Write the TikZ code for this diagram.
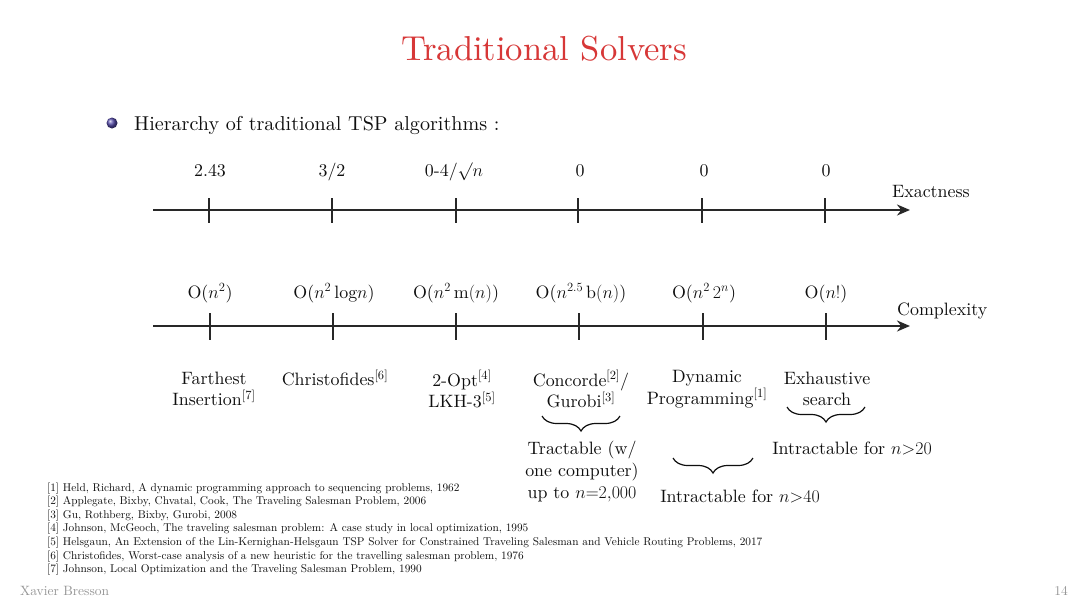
\RequirePackage{fix-cm}
\documentclass[tikz,border=0pt]{standalone}
\usepackage{fontspec}
\setmainfont{lmroman10-regular.otf}[BoldFont=lmroman10-bold.otf,ItalicFont=lmroman10-italic.otf]
\usetikzlibrary{arrows.meta,decorations.pathreplacing}
\definecolor{titlered}{RGB}{215,55,55}
\definecolor{axisgray}{RGB}{40,40,40}
\definecolor{ballblue}{RGB}{85,75,170}
\definecolor{footgray}{RGB}{150,150,150}
\definecolor{txt}{RGB}{15,15,15}
\tikzset{
  axisline/.style={draw=axisgray, line width=2.8pt, -{Stealth[length=13pt,width=11pt]}},
  tickmark/.style={draw=axisgray, line width=1.7pt},
  lbl/.style={font=\fontsize{17.9}{21}\selectfont, anchor=base, inner sep=0pt, text=txt},
  alg/.style={font=\fontsize{17.9}{21.5}\selectfont, align=center, inner sep=0pt, text=txt},
  bracedown/.style={decorate, decoration={brace, amplitude=15pt}, draw=txt, line width=1.2pt},
  reftext/.style={font=\fontsize{11.3}{13.6}\selectfont, anchor=base west, inner sep=0pt, text=txt},
  foot/.style={font=\fontsize{13.5}{15}\selectfont, inner sep=0pt, text=footgray}
}
\begin{document}
\begin{tikzpicture}[x=1pt,y=-1pt]
\useasboundingbox (0,0) rectangle (1080,608);
\fill[white] (0,0) rectangle (1080,608);
% title
\node[font=\fontsize{34.6}{40}\selectfont, text=titlered, anchor=base, inner sep=0pt] (title) at (544,60) {Traditional Solvers};
% bullet
\shade[ball color=ballblue] (112,123) circle (5.5);
\node[font=\fontsize{20.1}{24}\selectfont, anchor=base west, inner sep=0pt, text=txt] (bullet) at (134,130) {Hierarchy of traditional TSP algorithms :};
% exactness axis
\coordinate (e0) at (153,210);
\coordinate (e1) at (910,210);
\draw[axisline] (e0) -- (e1);
\foreach \x/\n in {209/ea,332/eb,456/ec,578/ed,702/ee,825/ef}{
  \coordinate (\n t) at (\x,198);
  \coordinate (\n b) at (\x,223);
  \draw[tickmark] (\n t) -- (\n b);
}
\node[lbl] (x1) at (210,176) {2.43};
\node[lbl] (x2) at (332,176) {3/2};
\node[lbl] (x3) at (454,176) {0-4/$\surd n$};
\node[lbl] (x4) at (580,176) {0};
\node[lbl] (x5) at (704,176) {0};
\node[lbl] (x6) at (826,176) {0};
\node[lbl, anchor=base west] (exact) at (892,197) {Exactness};
% complexity axis
\coordinate (c0) at (153,326);
\coordinate (c1) at (910,326);
\draw[axisline] (c0) -- (c1);
\foreach \x/\n in {210/ca,333/cb,456/cc,579/cd,703/ce,826/cf}{
  \coordinate (\n t) at (\x,313);
  \coordinate (\n b) at (\x,340);
  \draw[tickmark] (\n t) -- (\n b);
}
\node[lbl] (k1) at (210,298) {O($n^2$)};
\node[lbl] (k2) at (334,298) {O($n^2\,\mathrm{log}n$)};
\node[lbl] (k3) at (456,298) {O($n^2\,\mathrm{m}(n)$)};
\node[lbl] (k4) at (581,298) {O($n^{2.5}\,\mathrm{b}(n)$)};
\node[lbl] (k5) at (704,298) {O($n^2\,2^n$)};
\node[lbl] (k6) at (826,298) {O($n!$)};
\node[lbl, anchor=base west] (compl) at (897,315) {Complexity};
% algorithms
\node[alg] (a1) at (214,389) {Farthest\\Insertion\textsuperscript{[7]}};
\node[alg] (a2) at (335,378) {Christofides\textsuperscript{[6]}};
\node[alg] (a3) at (462,389) {2-Opt\textsuperscript{[4]}\\LKH-3\textsuperscript{[5]}};
\node[alg] (a4) at (581,389) {Concorde\textsuperscript{[2]}/\\Gurobi\textsuperscript{[3]}};
\node[alg] (a5) at (707,389) {Dynamic\\Programming\textsuperscript{[1]}};
\node[alg] (a6) at (827,389) {Exhaustive\\search};
% braces
\coordinate (b1r) at (620,416);
\coordinate (b1l) at (542,416);
\draw[bracedown] (b1r) -- (b1l);
\coordinate (b2r) at (865,407);
\coordinate (b2l) at (787,407);
\draw[bracedown] (b2r) -- (b2l);
\coordinate (b3r) at (753,458);
\coordinate (b3l) at (673,458);
\draw[bracedown] (b3r) -- (b3l);
\node[alg, font=\fontsize{17.9}{22}\selectfont] (t1) at (582,472) {Tractable (w/\\one computer)\\up to $n{=}2{,}000$};
\node[lbl] (t2) at (740,502) {Intractable for $n{>}40$};
\node[lbl] (t3) at (852,454) {Intractable for $n{>}20$};
% references
\node[reftext] (r1) at (47,491) {[1] Held, Richard, A dynamic programming approach to sequencing problems, 1962};
\node[reftext] (r2) at (47,504.6) {[2] Applegate, Bixby, Chvatal, Cook, The Traveling Salesman Problem, 2006};
\node[reftext] (r3) at (47,518.2) {[3] Gu, Rothberg, Bixby, Gurobi, 2008};
\node[reftext] (r4) at (47,531.8) {[4] Johnson, McGeoch, The traveling salesman problem: A case study in local optimization, 1995};
\node[reftext] (r5) at (47,545.4) {[5] Helsgaun, An Extension of the Lin-Kernighan-Helsgaun TSP Solver for Constrained Traveling Salesman and Vehicle Routing Problems, 2017};
\node[reftext] (r6) at (47,559) {[6] Christofides, Worst-case analysis of a new heuristic for the travelling salesman problem, 1976};
\node[reftext] (r7) at (47,572.6) {[7] Johnson, Local Optimization and the Traveling Salesman Problem, 1990};
% footer
\node[foot, anchor=base west] (author) at (20,595) {Xavier Bresson};
\node[foot, anchor=base east] (page) at (1068,595) {14};
\end{tikzpicture}
\end{document}
